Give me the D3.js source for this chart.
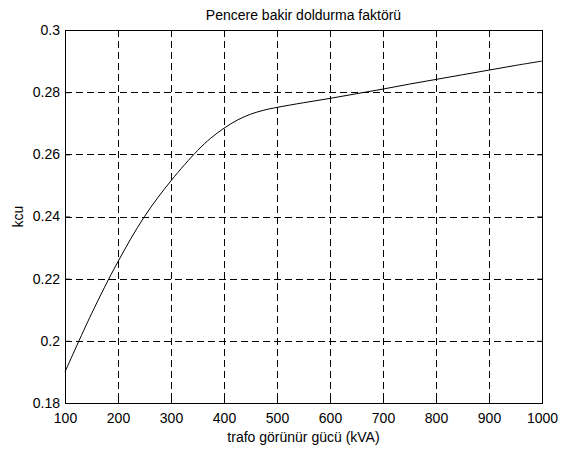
<!DOCTYPE html>
<html>
<head>
<meta charset="utf-8">
<script src="https://cdn.jsdelivr.net/npm/d3@7"></script>
<style>
  body { margin: 0; background: #fff; }
  text { font-family: "Liberation Sans", Arial, sans-serif; }
</style>
</head>
<body>
<div id="chart-area"></div>
<script>
// kVA vs kcu
var kva = [100, 150, 200, 250, 300, 350, 375, 400, 425, 450, 475, 500, 550, 600, 650, 700, 750, 800, 850, 900, 950, 1000]
var kcu = [0.190, 0.2087, 0.2255, 0.2400, 0.2515, 0.2612, 0.2652, 0.2684, 0.2710, 0.2729, 0.2742, 0.2751, 0.2766, 0.2780, 0.2795, 0.2810, 0.2826, 0.2841, 0.2856, 0.2871, 0.2886, 0.2900]
var xTicks = [100, 200, 300, 400, 500, 600, 700, 800, 900, 1000]
var yTicks = [0.18, 0.2, 0.22, 0.24, 0.26, 0.28, 0.3]

var data = kva.map(function (d, i) { return { x: d, y: kcu[i] } })

var W = 563, H = 449
// note: "top" is taken by window.top, so use other names
var mLeft = 65, mRight = 542, mTop = 30, mBottom = 403

var svg = d3.select("#chart-area").append("svg")
  .attr("width", W)
  .attr("height", H)

var x = d3.scaleLinear().domain([100, 1000]).range([mLeft, mRight])
var y = d3.scaleLinear().domain([0.18, 0.3]).range([mBottom, mTop])

// grid
var grid = svg.append("g")
  .attr("stroke", "#000")
  .attr("stroke-width", 1)
  .attr("stroke-dasharray", "7,4")
  .attr("shape-rendering", "crispEdges")

grid.selectAll(".vg")
  .data(xTicks.slice(1, -1))
  .enter().append("line")
  .attr("x1", function (d) { return Math.round(x(d)) + 0.5 })
  .attr("x2", function (d) { return Math.round(x(d)) + 0.5 })
  .attr("y1", mTop)
  .attr("y2", mBottom)

grid.selectAll(".hg")
  .data(yTicks.slice(1, -1))
  .enter().append("line")
  .attr("y1", function (d) { return Math.round(y(d)) + 0.5 })
  .attr("y2", function (d) { return Math.round(y(d)) + 0.5 })
  .attr("x1", mLeft)
  .attr("x2", mRight)

// axes, ticks pointing inward
var tick = 5
svg.append("g")
  .attr("transform", "translate(0," + mBottom + ")")
  .call(d3.axisBottom(x).tickValues(xTicks).tickSizeInner(-tick).tickSizeOuter(0).tickPadding(10).tickFormat(d3.format("d")))
svg.append("g")
  .attr("transform", "translate(0," + mTop + ")")
  .call(d3.axisTop(x).tickValues(xTicks).tickSizeInner(-tick).tickSizeOuter(0).tickFormat(""))
svg.append("g")
  .attr("transform", "translate(" + mLeft + ",0)")
  .call(d3.axisLeft(y).tickValues(yTicks).tickSizeInner(-tick).tickSizeOuter(0).tickPadding(5).tickFormat(function (d) { return String(+d.toFixed(2)) }))
svg.append("g")
  .attr("transform", "translate(" + mRight + ",0)")
  .call(d3.axisRight(y).tickValues(yTicks).tickSizeInner(-tick).tickSizeOuter(0).tickFormat(""))

svg.selectAll(".domain").remove()
svg.selectAll(".tick text")
  .attr("font-size", 14)
  .attr("fill", "#000")
  .attr("font-family", "Liberation Sans, Arial, sans-serif")

svg.append("rect")
  .attr("x", mLeft + 0.5)
  .attr("y", mTop + 0.5)
  .attr("width", mRight - mLeft)
  .attr("height", mBottom - mTop)
  .attr("fill", "none")
  .attr("stroke", "#000")
  .attr("shape-rendering", "crispEdges")

// curve
var line = d3.line()
  .x(function (d) { return x(d.x) })
  .y(function (d) { return y(d.y) })
  .curve(d3.curveCatmullRom.alpha(0.5))

svg.append("path")
  .datum(data)
  .attr("d", line)
  .attr("fill", "none")
  .attr("stroke", "#000")
  .attr("stroke-width", 1)

// labels
svg.append("text")
  .attr("x", (mLeft + mRight) / 2)
  .attr("y", 20)
  .attr("text-anchor", "middle")
  .attr("font-size", 14)
  .text("Pencere bakir doldurma faktörü")

svg.append("text")
  .attr("x", (mLeft + mRight) / 2)
  .attr("y", 442)
  .attr("text-anchor", "middle")
  .attr("font-size", 14)
  .text("trafo görünür gücü (kVA)")

svg.append("text")
  .attr("transform", "translate(23," + (mTop + mBottom) / 2 + ") rotate(-90)")
  .attr("text-anchor", "middle")
  .attr("font-size", 14)
  .text("kcu")
</script>
</body>
</html>
